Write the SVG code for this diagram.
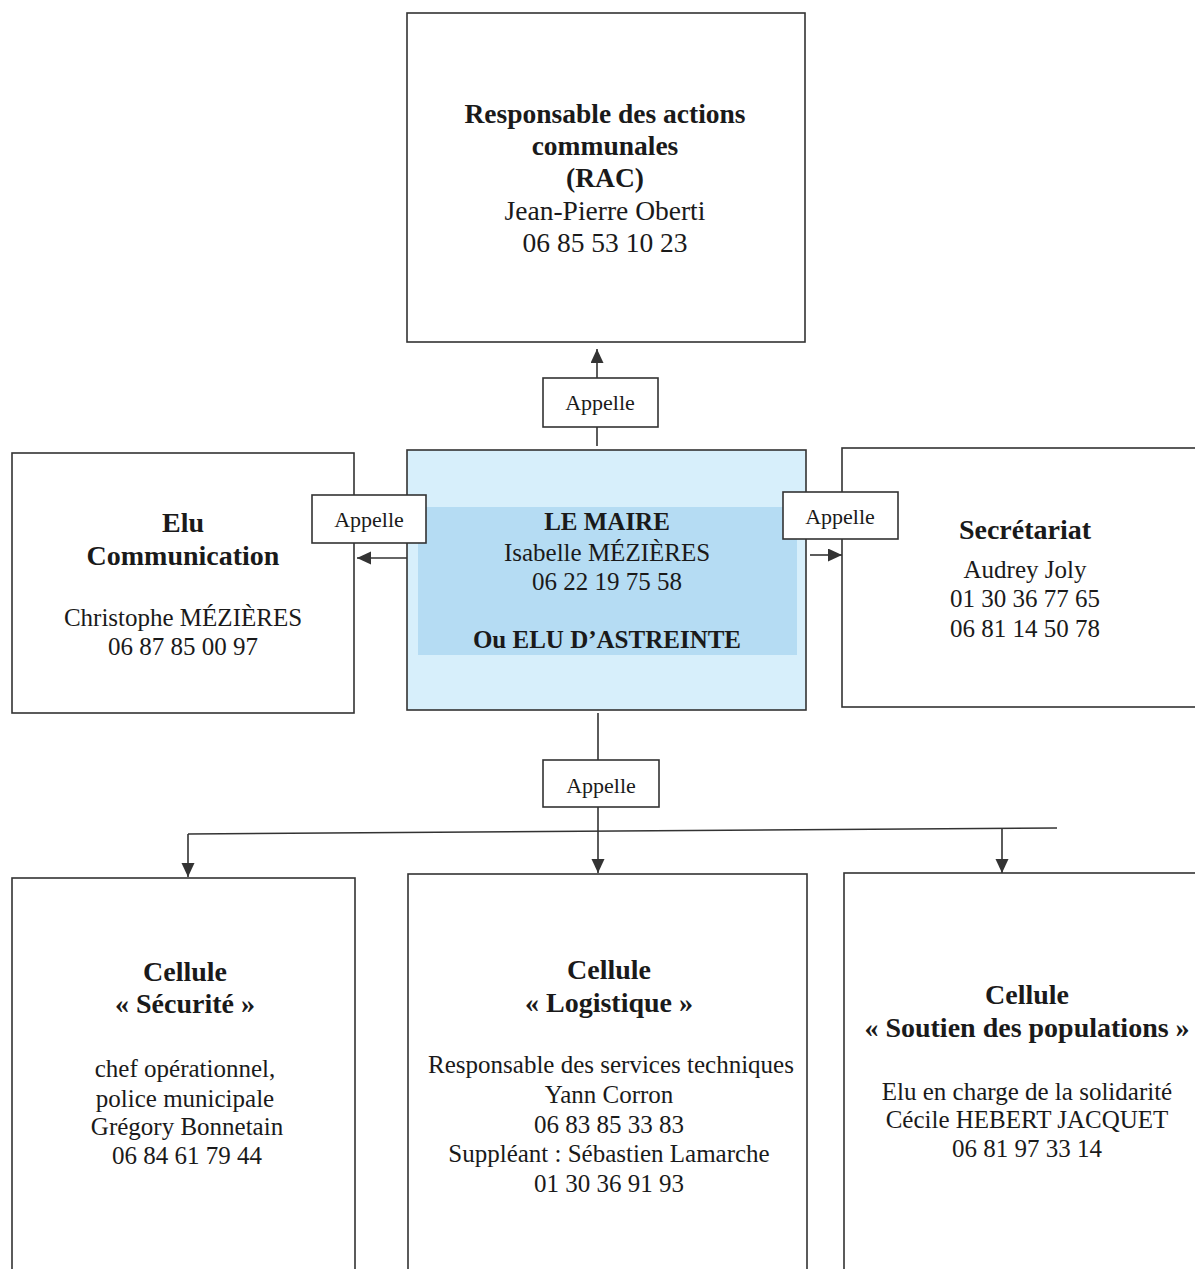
<svg xmlns="http://www.w3.org/2000/svg" width="1195" height="1269" viewBox="0 0 1195 1269">
<style>
  text { font-family: "Liberation Serif", "Times New Roman", serif; fill: #1a1a1a; text-anchor: middle; }
  .b { font-weight: bold; font-size: 28px; }
  .r { font-size: 25px; }
  .top { font-size: 27.5px; }
  .cb { font-weight: bold; font-size: 25px; }
  .lbl { font-size: 22px; }
  .box { fill: #ffffff; stroke: #333333; stroke-width: 1.6; }
  .conn { fill: none; stroke: #333333; stroke-width: 1.6; }
</style>
<defs>
  <marker id="arr" markerUnits="userSpaceOnUse" markerWidth="15" markerHeight="14" refX="14" refY="6.5" orient="auto">
    <path d="M0,0 L14,6.5 L0,13 z" fill="#333333"/>
  </marker>
</defs>
<rect width="1195" height="1269" fill="#ffffff"/>

<g id="connectors">
  <line class="conn" x1="597" y1="446" x2="597" y2="349" marker-end="url(#arr)"/>
  <line class="conn" x1="407" y1="558" x2="357" y2="558" marker-end="url(#arr)"/>
  <line class="conn" x1="810" y1="555" x2="842" y2="555" marker-end="url(#arr)"/>
  <line class="conn" x1="598" y1="713" x2="598" y2="873" marker-end="url(#arr)"/>
  <line class="conn" x1="188" y1="834" x2="1057" y2="828"/>
  <line class="conn" x1="188" y1="834" x2="188" y2="877" marker-end="url(#arr)"/>
  <line class="conn" x1="1002" y1="828" x2="1002" y2="873" marker-end="url(#arr)"/>
</g>

<g id="node-rac">
  <rect class="box" x="407" y="13" width="398" height="329"/>
  <text class="top" x="605" y="123" font-weight="bold">Responsable des actions</text>
  <text class="top" x="605" y="155" font-weight="bold">communales</text>
  <text class="top" x="605" y="187" font-weight="bold">(RAC)</text>
  <text class="top" x="605" y="220">Jean-Pierre Oberti</text>
  <text class="top" x="605" y="252">06 85 53 10 23</text>
</g>

<g id="node-maire">
  <rect x="407" y="450" width="399" height="260" fill="#d7effb" stroke="#333333" stroke-width="1.6"/>
  <rect x="418" y="507" width="379" height="148" fill="#b5dcf3"/>
  <text class="cb" x="607" y="530">LE MAIRE</text>
  <text class="r" x="607" y="561">Isabelle MÉZIÈRES</text>
  <text class="r" x="607" y="590">06 22 19 75 58</text>
  <text class="cb" x="607" y="648">Ou ELU D’ASTREINTE</text>
</g>

<g id="node-elu-communication">
  <rect class="box" x="12" y="453" width="342" height="260"/>
  <text class="b" x="183" y="532">Elu</text>
  <text class="b" x="183" y="565">Communication</text>
  <text class="r" x="183" y="626">Christophe MÉZIÈRES</text>
  <text class="r" x="183" y="655">06 87 85 00 97</text>
</g>

<g id="node-secretariat">
  <rect class="box" x="842" y="448" width="370" height="259"/>
  <text class="b" x="1025" y="539">Secrétariat</text>
  <text class="r" x="1025" y="578">Audrey Joly</text>
  <text class="r" x="1025" y="607">01 30 36 77 65</text>
  <text class="r" x="1025" y="637">06 81 14 50 78</text>
</g>

<g id="node-securite">
  <rect class="box" x="12" y="878" width="343" height="410"/>
  <text class="b" x="185" y="981">Cellule</text>
  <text class="b" x="185" y="1013">« Sécurité »</text>
  <text class="r" x="185" y="1077">chef opérationnel,</text>
  <text class="r" x="185" y="1107">police municipale</text>
  <text class="r" x="187" y="1135">Grégory Bonnetain</text>
  <text class="r" x="187" y="1164">06 84 61 79 44</text>
</g>

<g id="node-logistique">
  <rect class="box" x="408" y="874" width="399" height="414"/>
  <text class="b" x="609" y="979">Cellule</text>
  <text class="b" x="609" y="1012">« Logistique »</text>
  <text class="r" x="611" y="1073">Responsable des services techniques</text>
  <text class="r" x="609" y="1103">Yann Corron</text>
  <text class="r" x="609" y="1133">06 83 85 33 83</text>
  <text class="r" x="609" y="1162">Suppléant : Sébastien Lamarche</text>
  <text class="r" x="609" y="1192">01 30 36 91 93</text>
</g>

<g id="node-soutien">
  <rect class="box" x="844" y="873" width="370" height="415"/>
  <text class="b" x="1027" y="1004">Cellule</text>
  <text class="b" x="1027" y="1037">« Soutien des populations »</text>
  <text class="r" x="1027" y="1100">Elu en charge de la solidarité</text>
  <text class="r" x="1027" y="1128">Cécile HEBERT JACQUET</text>
  <text class="r" x="1027" y="1157">06 81 97 33 14</text>
</g>

<g id="labels">
  <g id="label-top">
    <rect class="box" x="543" y="378" width="115" height="49"/>
    <text class="lbl" x="600" y="410">Appelle</text>
  </g>
  <g id="label-left">
    <rect class="box" x="312" y="495" width="114" height="48"/>
    <text class="lbl" x="369" y="527">Appelle</text>
  </g>
  <g id="label-right">
    <rect class="box" x="783" y="492" width="115" height="47"/>
    <text class="lbl" x="840" y="524">Appelle</text>
  </g>
  <g id="label-bottom">
    <rect class="box" x="543" y="760" width="116" height="47"/>
    <text class="lbl" x="601" y="793">Appelle</text>
  </g>
</g>
</svg>
